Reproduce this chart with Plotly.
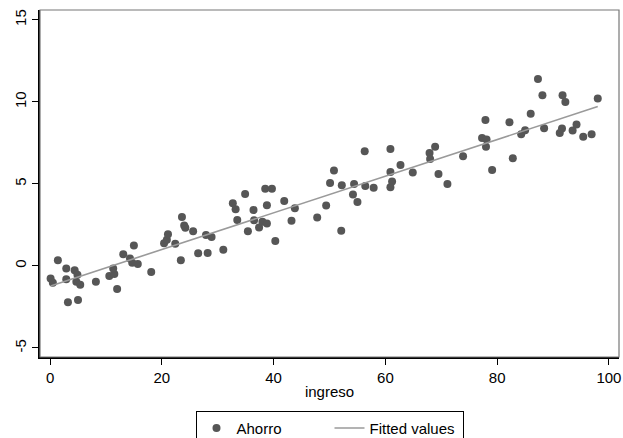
import numpy as np
import plotly.graph_objects as go

ingreso = [0.1, 0.5, 1.4, 2.9, 2.9, 3.2, 4.4, 4.9, 4.7, 5.4, 5.0, 8.2, 10.6, 11.5, 11.3, 12.0,
           13.1, 14.3, 15.0, 14.7, 15.7, 18.1, 20.4, 20.9, 21.1, 22.4, 23.4, 23.6, 24.0, 24.2,
           25.6, 26.5, 27.9, 28.2, 28.9, 31.0, 32.7, 33.2, 33.5, 34.9, 35.4, 36.4, 36.5, 37.4,
           38.0, 38.5, 39.7, 38.8, 38.8, 40.3, 41.9, 43.2, 43.8, 47.8, 49.4, 50.1, 50.8, 52.1,
           52.2, 54.2, 54.4, 55.0, 56.3, 56.4, 57.9, 60.9, 60.9, 61.2, 60.9, 62.7, 64.9, 67.9,
           68.0, 68.9, 69.5, 71.1, 73.9, 77.3, 77.9, 78.1, 78.0, 79.1, 82.2, 82.8, 84.3, 85.0,
           86.0, 87.3, 88.1, 88.4, 91.2, 91.6, 91.7, 92.2, 93.5, 94.2, 95.4, 96.9, 98.0]
ahorro = [-0.77, -1.02, 0.35, -0.16, -0.81, -2.21, -0.26, -0.53, -0.96, -1.14, -2.07, -0.96,
          -0.61, -0.49, -0.16, -1.40, 0.71, 0.45, 1.24, 0.20, 0.12, -0.37, 1.38, 1.59, 1.93,
          1.36, 0.35, 2.99, 2.46, 2.33, 2.12, 0.77, 1.89, 0.79, 1.77, 0.98, 3.82, 3.46, 2.80,
          4.39, 2.12, 3.41, 2.79, 2.34, 2.70, 4.71, 4.71, 3.70, 2.58, 1.52, 3.96, 2.76, 3.52,
          2.95, 3.68, 5.06, 5.81, 2.15, 4.92, 4.35, 5.00, 3.90, 6.99, 4.88, 4.76, 7.13, 5.73,
          5.14, 4.80, 6.16, 5.69, 6.89, 6.52, 7.26, 5.61, 5.00, 6.69, 7.80, 8.90, 7.70, 7.26,
          5.85, 8.76, 6.57, 8.03, 8.27, 9.27, 11.40, 10.41, 8.40, 8.11, 8.37, 10.41, 10.00,
          8.25, 8.62, 7.87, 8.03, 10.20]

x_ticks = [0, 20, 40, 60, 80, 100]
y_ticks = [-5, 0, 5, 10, 15]
y_tick_labels = ["-5", "0", "5", "10", "15"]

xa = np.array(ingreso)
ya = np.array(ahorro)
slope, intercept = np.polyfit(xa, ya, 1)
fit_x = np.array([xa.min(), xa.max()])
fit_y = intercept + slope * fit_x

FONT = "Liberation Sans, Arial, sans-serif"

fig = go.Figure()
fig.add_trace(go.Scatter(
    x=ingreso, y=ahorro, mode="markers", name="Ahorro",
    marker=dict(color="#565656", size=8, line=dict(width=0)),
))
fig.add_trace(go.Scatter(
    x=fit_x, y=fit_y, mode="lines", name="Fitted values",
    line=dict(color="#9a9a9a", width=1.6),
))

fig.update_layout(
    width=623, height=438,
    margin=dict(l=40, r=4, t=10, b=81, autoexpand=False),
    paper_bgcolor="white", plot_bgcolor="white",
    font=dict(family=FONT, size=15, color="black"),
    showlegend=True,
    legend=dict(
        orientation="h", x=0.5, xanchor="center", y=-0.155, yanchor="top",
        bordercolor="black", borderwidth=1, bgcolor="white",
        font=dict(family=FONT, size=15, color="black"),
        entrywidth=88, entrywidthmode="pixels",
    ),
    shapes=[dict(type="rect", xref="paper", yref="paper", x0=0, x1=1, y0=0, y1=1,
                 line=dict(color="#777777", width=1.2), layer="above")],
)
fig.update_xaxes(
    range=[-1.8, 101.8], tickvals=x_ticks, ticks="outside", ticklen=6, tickcolor="black",
    showgrid=False, zeroline=False, showline=True, linecolor="black", linewidth=1.6,
    title=dict(text="ingreso", standoff=2, font=dict(size=15)),
    tickfont=dict(size=15), automargin=False,
)
fig.update_yaxes(
    range=[-5.55, 15.6], tickvals=y_ticks, ticktext=y_tick_labels, ticks="outside",
    ticklen=6, tickcolor="black",
    showgrid=False, zeroline=False, showline=True, linecolor="black", linewidth=1.6,
    tickangle=-90, tickfont=dict(size=15), automargin=False,
)

fig.write_html("out.html", config={"displayModeBar": False},
               post_script="document.body.style.margin='0';")
